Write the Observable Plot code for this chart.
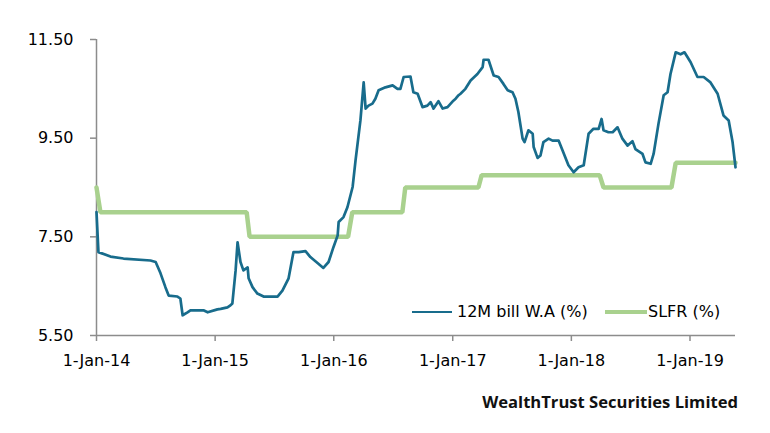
<!DOCTYPE html>
<html>
<head>
<meta charset="utf-8">
<script src="https://cdn.jsdelivr.net/npm/d3@7"></script>
<script src="https://cdn.jsdelivr.net/npm/@observablehq/plot@0.6"></script>
<style>
  html, body { margin: 0; padding: 0; background: #fff; }
  #wrap { position: relative; width: 770px; height: 433px; font-family: "DejaVu Sans", Verdana, sans-serif; }
  #legend { position: absolute; top: 302px; left: 0; width: 770px; height: 20px; font-size: 16px; color: #000; }
  .sw { position: absolute; height: 0; }
  .lt { position: absolute; top: 0; line-height: 20px; white-space: nowrap; }
  #caption { position: absolute; top: 390px; right: 32px; font-family: "Open Sans", sans-serif; font-weight: 700; font-size: 16.6px; line-height: 24px; color: #111; }
</style>
</head>
<body>
<div id="wrap">
  <div id="chart"></div>
  <div id="legend"></div>
  <div id="caption"></div>
</div>
<script>
// ---- Data ----
const seriesNames = ["12M bill W.A (%)", "SLFR (%)"];
const seriesColors = ["#186c8c", "#a9d18e"];

const billDates = [
  "2014-01-01","2014-01-07","2014-02-13","2014-03-25","2014-06-16","2014-07-02","2014-07-17","2014-08-01",
  "2014-08-11","2014-09-07","2014-09-16","2014-09-23","2014-10-08","2014-10-17","2014-11-26","2014-12-09",
  "2015-01-08","2015-01-18","2015-02-08","2015-02-17","2015-02-23","2015-03-05","2015-03-11","2015-03-20",
  "2015-03-29","2015-04-11","2015-04-14","2015-04-26","2015-05-11","2015-05-30","2015-07-12","2015-07-27",
  "2015-08-15","2015-08-30","2015-09-15","2015-10-06","2015-10-21","2015-11-12","2015-11-30","2015-12-16",
  "2015-12-31","2016-01-13","2016-01-16","2016-01-31","2016-02-12","2016-02-28","2016-03-08","2016-03-23",
  "2016-04-02","2016-04-08","2016-04-17","2016-04-29","2016-05-08","2016-05-18","2016-06-08","2016-06-30",
  "2016-07-15","2016-07-24","2016-08-03","2016-08-24","2016-09-02","2016-09-15","2016-09-30","2016-10-15",
  "2016-10-25","2016-11-03","2016-11-18","2016-12-01","2016-12-16","2017-01-03","2017-01-10","2017-01-19",
  "2017-01-25","2017-02-09","2017-02-25","2017-03-18","2017-04-03","2017-04-06","2017-04-21","2017-05-07",
  "2017-05-22","2017-06-06","2017-06-19","2017-07-04","2017-07-13","2017-07-22","2017-08-04","2017-08-10",
  "2017-08-22","2017-09-04","2017-09-07","2017-09-19","2017-09-28","2017-10-07","2017-10-23","2017-11-04",
  "2017-11-23","2017-12-05","2017-12-23","2018-01-08","2018-01-23","2018-02-08","2018-02-23","2018-03-10",
  "2018-03-26","2018-04-04","2018-04-10","2018-04-25","2018-05-08","2018-05-23","2018-06-07","2018-06-23",
  "2018-07-08","2018-07-17","2018-08-08","2018-08-17","2018-09-02","2018-09-11","2018-09-26","2018-10-12",
  "2018-10-24","2018-11-02","2018-11-18","2018-12-03","2018-12-15","2019-01-03","2019-01-24","2019-02-12",
  "2019-03-05","2019-03-27","2019-04-14","2019-04-30","2019-05-12","2019-05-21"
];
const billValues = [
  8.00, 7.19, 7.10, 7.06, 7.02, 6.99, 6.76, 6.48,
  6.31, 6.29, 6.25, 5.91, 5.97, 6.01, 6.01, 5.97,
  6.03, 6.04, 6.07, 6.11, 6.15, 6.82, 7.39, 6.99,
  6.82, 6.88, 6.66, 6.48, 6.35, 6.29, 6.29, 6.41,
  6.66, 7.19, 7.19, 7.21, 7.09, 6.97, 6.87, 6.99,
  7.29, 7.53, 7.80, 7.90, 8.10, 8.51, 9.05, 9.86,
  10.63, 10.10, 10.16, 10.20, 10.30, 10.47, 10.53, 10.57,
  10.50, 10.50, 10.74, 10.75, 10.43, 10.40, 10.13, 10.16,
  10.23, 10.10, 10.25, 10.10, 10.13, 10.26, 10.30, 10.37,
  10.40, 10.50, 10.67, 10.80, 10.94, 11.09, 11.09, 10.77,
  10.74, 10.60, 10.47, 10.43, 10.30, 10.03, 9.49, 9.42,
  9.66, 9.59, 9.32, 9.10, 9.15, 9.42, 9.49, 9.45,
  9.45, 9.25, 8.95, 8.81, 8.91, 8.95, 9.59, 9.69,
  9.69, 9.89, 9.66, 9.62, 9.62, 9.72, 9.49, 9.35,
  9.44, 9.28, 9.18, 9.01, 8.98, 9.18, 9.79, 10.37,
  10.43, 10.80, 11.24, 11.20, 11.24, 11.04, 10.74, 10.74,
  10.63, 10.40, 9.96, 9.86, 9.42, 8.91
];

const slfrDates = [
  "2014-01-01","2014-01-13","2015-04-08","2015-04-17","2016-02-14","2016-02-27",
  "2016-07-30","2016-08-08","2017-03-21","2017-03-31","2018-03-29","2018-04-10",
  "2018-11-05","2018-11-18","2019-05-21"
];
const slfrValues = [
  8.50, 8.00, 8.00, 7.50, 7.50, 8.00,
  8.00, 8.50, 8.50, 8.75, 8.75, 8.50,
  8.50, 9.00, 9.00
];

const xTickDates = ["2014-01-01","2015-01-01","2016-01-01","2017-01-01","2018-01-01","2019-01-01"];
const xTickLabels = ["1-Jan-14","1-Jan-15","1-Jan-16","1-Jan-17","1-Jan-18","1-Jan-19"];
const yTicks = [5.5, 7.5, 9.5, 11.5];
const xDomain = ["2014-01-01", "2019-05-21"];
const captionText = "WealthTrust Securities Limited";

// ---- Build ----
const bill = billDates.map((d, i) => ({date: new Date(d), value: billValues[i]}));
const slfr = slfrDates.map((d, i) => ({date: new Date(d), value: slfrValues[i]}));
const xTicks = xTickDates.map(d => new Date(d));
const labelMap = new Map(xTicks.map((d, i) => [+d, xTickLabels[i]]));
const axisColor = "#8c8c8c";

const chart = Plot.plot({
  width: 770,
  height: 380,
  marginLeft: 96,
  marginRight: 35,
  marginTop: 39,
  marginBottom: 45,
  style: {fontFamily: "DejaVu Sans, Verdana, sans-serif", fontSize: "16px", color: "#000", background: "#fff"},
  x: {type: "utc", domain: xDomain.map(d => new Date(d)), label: null},
  y: {domain: [yTicks[0], yTicks[yTicks.length - 1]], label: null},
  marks: [
    Plot.axisX(xTicks, {tickFormat: d => labelMap.get(+d), tickSize: 6, tickPadding: 13, stroke: axisColor, strokeWidth: 1.5, label: null}),
    Plot.axisY(yTicks, {tickFormat: d3.format(".2f"), tickSize: 6, tickPadding: 17, stroke: axisColor, strokeWidth: 1.5, label: null}),
    Plot.ruleY([yTicks[0]], {stroke: axisColor, strokeWidth: 1.5}),
    Plot.ruleX([new Date(xDomain[0])], {stroke: axisColor, strokeWidth: 1.5}),
    Plot.line(slfr, {x: "date", y: "value", stroke: seriesColors[1], strokeWidth: 4.5, strokeLinejoin: "miter"}),
    Plot.line(bill, {x: "date", y: "value", stroke: seriesColors[0], strokeWidth: 2.7, strokeLinejoin: "round"})
  ]
});
document.getElementById("chart").appendChild(chart);

// Legend
const legend = document.getElementById("legend");
const legendLayout = [{sw: 412, tx: 457}, {sw: 605, tx: 648}];
seriesNames.forEach((name, i) => {
  const sw = document.createElement("div");
  sw.className = "sw";
  sw.style.left = legendLayout[i].sw + "px";
  sw.style.width = (legendLayout[i].tx - legendLayout[i].sw - (i === 0 ? 5 : 1)) + "px";
  sw.style.top = "10px";
  sw.style.borderTop = (i === 0 ? 2.7 : 4) + "px solid " + seriesColors[i];
  sw.style.marginTop = (i === 0 ? -1 : -2) + "px";
  legend.appendChild(sw);
  const t = document.createElement("div");
  t.className = "lt";
  t.style.left = legendLayout[i].tx + "px";
  t.textContent = name;
  legend.appendChild(t);
});
document.getElementById("caption").textContent = captionText;
</script>
</body>
</html>
